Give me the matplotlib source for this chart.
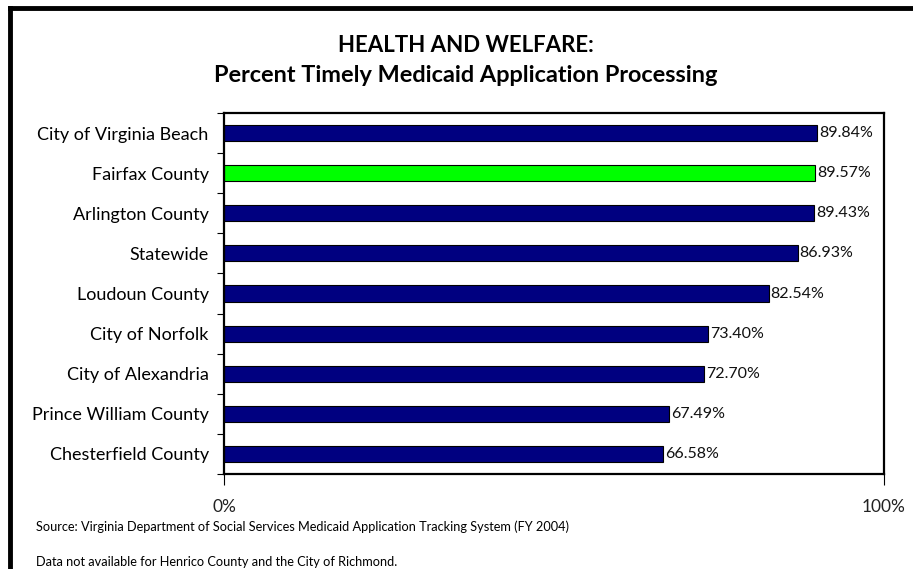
import matplotlib.pyplot as plt
from matplotlib.lines import Line2D

# data (top to bottom as shown)
places = ["City of Virginia Beach", "Fairfax County", "Arlington County", "Statewide",
          "Loudoun County", "City of Norfolk", "City of Alexandria",
          "Prince William County", "Chesterfield County"]
pct = [89.84, 89.57, 89.43, 86.93, 82.54, 73.40, 72.70, 67.49, 66.58]
highlight = "Fairfax County"

plt.rcParams['font.family'] = ['Lato', 'DejaVu Sans']

fig = plt.figure(figsize=(9.13, 5.69), dpi=100)
W, H = 913, 569
ax = fig.add_axes([224 / W, 1 - 474 / H, 660 / W, 361 / H])

n = len(places)
ypos = list(range(n))[::-1]
colors = ['#00ff00' if p == highlight else '#000080' for p in places]
ax.barh(ypos, pct, height=0.4, color=colors, edgecolor='black', linewidth=0.8)

for y, v in zip(ypos, pct):
    ax.text(v + 0.3, y, f"{v:.2f}%", va='center', ha='left', fontsize=11.5, color='#111111')

ax.set_xlim(0, 100)
ax.set_ylim(-0.5, n - 0.5)
ax.set_yticks(ypos)
ax.set_yticklabels(places, fontsize=13)
ax.tick_params(axis='y', length=0, pad=11)
ax.set_yticks([i - 0.5 for i in range(n + 1)], minor=True)
ax.tick_params(axis='y', which='minor', length=5, width=0.8)
ax.set_xticks([0, 100])
ax.set_xticklabels(["0%", "100%"], fontsize=12.5, color='#222222')
ax.tick_params(axis='x', length=8, width=0.8, pad=10)
for s in ax.spines.values():
    s.set_linewidth(1.6)

fig.text(466 / W, 1 - 46 / H, "HEALTH AND WELFARE:", ha='center', va='center',
         fontsize=16, fontweight='bold')
fig.text(466 / W, 1 - 75 / H, "Percent Timely Medicaid Application Processing",
         ha='center', va='center', fontsize=16.9, fontweight='bold')

fig.text(36 / W, 1 - 527 / H,
         "Source: Virginia Department of Social Services Medicaid Application Tracking System (FY 2004)",
         ha='left', va='center', fontsize=9.2)
fig.text(36 / W, 1 - 562 / H,
         "Data not available for Henrico County and the City of Richmond.",
         ha='left', va='center', fontsize=9.2)

# outer frame (top and left edges visible)
fig.add_artist(Line2D([10 / W, 1], [1 - 8 / H, 1 - 8 / H], color='black', linewidth=3.5,
                      transform=fig.transFigure))
fig.add_artist(Line2D([10 / W, 10 / W], [0, 1 - 8 / H], color='black', linewidth=3.5,
                      transform=fig.transFigure))

fig.savefig("out.png", dpi=100)
